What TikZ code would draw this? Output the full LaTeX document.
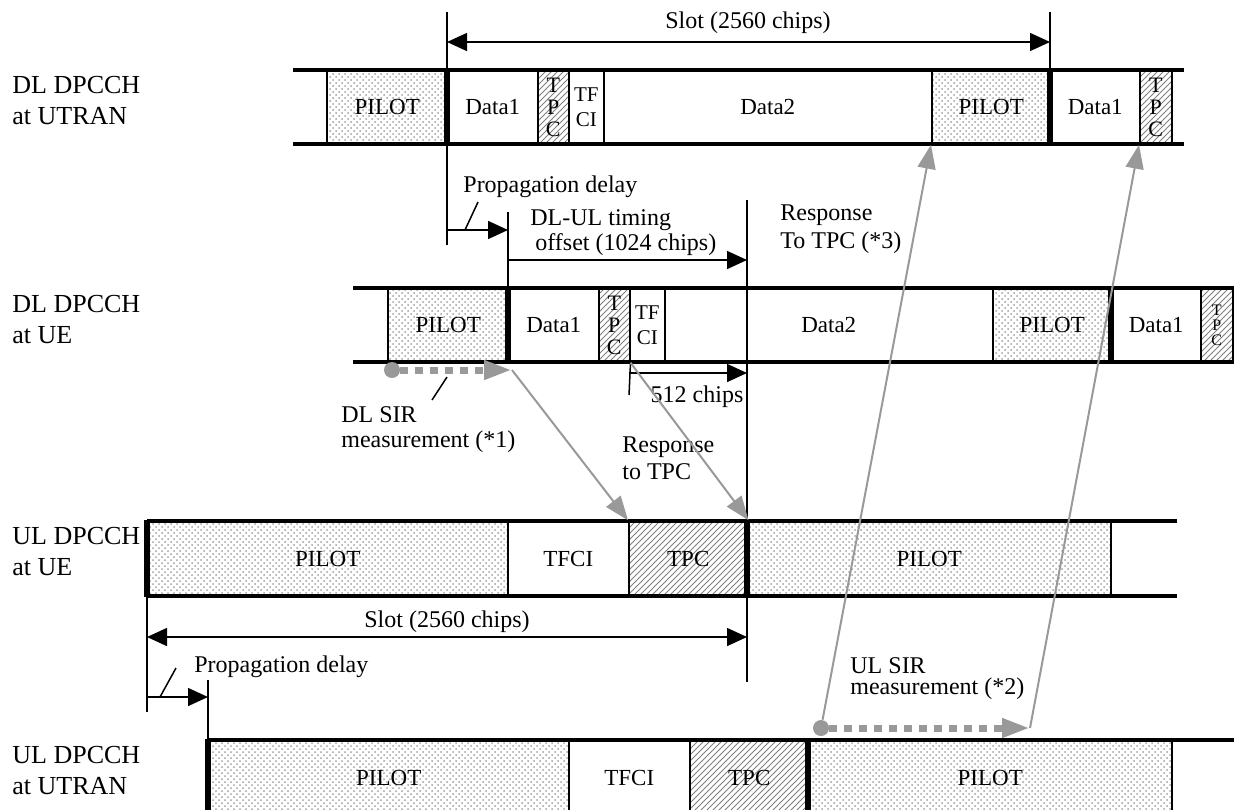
\documentclass[tikz,border=0pt]{standalone}
\usepackage{fontspec}
\setmainfont{Liberation Serif}
\usetikzlibrary{arrows.meta,patterns}
\definecolor{sirgray}{gray}{0.6}
\tikzset{
    blk/.tip={Triangle[length=10pt,width=9pt]},
    field/.style={draw, line width=0.75pt, minimum height=37pt, inner sep=0pt, anchor=west, font=\fontsize{11.5}{12}\selectfont},
    pilot/.style={field, pattern=crosshatch dots, pattern color=gray!75},
    tpcbox/.style={field, pattern=north east lines, pattern color=gray, align=center, font=\fontsize{11}{11}\selectfont},
    tfcibox/.style={field, align=center, font=\fontsize{10.5}{12.5}\selectfont},
    rowline/.style={line width=2.2pt},
    slotline/.style={line width=2.6pt},
    tick/.style={line width=0.75pt},
    dim/.style={line width=0.75pt, -blk},
    annot/.style={inner sep=0pt, align=left, font=\fontsize{12}{12.5}\selectfont},
    rowlabel/.style={inner sep=0pt, anchor=west, align=left, font=\fontsize{13}{15.5}\selectfont},
    sirdot/.style={circle, fill=sirgray, inner sep=0pt, minimum size=8pt},
    sirline/.style={draw=sirgray, line width=1pt, -{Triangle[length=12pt,width=9pt]}},
    sirdash/.style={draw=sirgray, line width=3.5pt, dash pattern=on 4pt off 3.5pt, -{Triangle[length=14pt,width=9pt]}}
}
\begin{document}
\begin{tikzpicture}[x=0.5pt, y=-0.5pt]
    \clip (0,0) rectangle (1234,809);

    \node (lA) at (12,100.5) [rowlabel] {DL DPCCH\\at UTRAN};
    \node (lB) at (12,319.5) [rowlabel] {DL DPCCH\\at UE};
    \node (lC) at (12,551.5) [rowlabel] {UL DPCCH\\at UE};
    \node (lD) at (12,770.5) [rowlabel] {UL DPCCH\\at UTRAN};

    \node (pA1) at (326,107) [pilot, minimum width=60.5pt] {PILOT};
    \node (dA1) at (447,107) [field, minimum width=45pt] {Data1};
    \node (tA1) at (537,107) [tpcbox, minimum width=15.5pt] {T\\P\\C};
    \node (fA1) at (568,107) [tfcibox, minimum width=17.5pt] {TF\\CI};
    \node (eA1) at (603,107) [field, minimum width=164pt] {Data2};
    \node (pA2) at (931,107) [pilot, minimum width=59.5pt] {PILOT};
    \node (dA2) at (1050,107) [field, minimum width=44.5pt] {Data1};
    \node (tA2) at (1139,107) [tpcbox, minimum width=16pt] {T\\P\\C};

    \node (pB1) at (387,325) [pilot, minimum width=60.5pt] {PILOT};
    \node (dB1) at (508,325) [field, minimum width=45pt] {Data1};
    \node (tB1) at (598,325) [tpcbox, minimum width=15.5pt] {T\\P\\C};
    \node (fB1) at (629,325) [tfcibox, minimum width=17.5pt] {TF\\CI};
    \node (eB1) at (664,325) [field, minimum width=164pt] {Data2};
    \node (pB2) at (992,325) [pilot, minimum width=59.5pt] {PILOT};
    \node (dB2) at (1111,325) [field, minimum width=44.5pt] {Data1};
    \node (tB2) at (1200,325) [tpcbox, minimum width=16pt, font=\fontsize{8}{7.5}\selectfont] {T\\P\\C};

    \node (pC1) at (147,558.5) [pilot, minimum width=180pt, minimum height=37.5pt] {PILOT};
    \node (fC1) at (507,558.5) [field, minimum width=60.5pt, minimum height=37.5pt] {TFCI};
    \node (tC1) at (628,558.5) [tpcbox, minimum width=59.5pt, minimum height=37.5pt, font=\fontsize{11.5}{12}\selectfont] {TPC};
    \node (pC2) at (747,558.5) [pilot, minimum width=181.5pt, minimum height=37.5pt] {PILOT};

    \node (pD1) at (208,777.5) [pilot, minimum width=180pt, minimum height=37.5pt] {PILOT};
    \node (fD1) at (568,777.5) [field, minimum width=60.5pt, minimum height=37.5pt] {TFCI};
    \node (tD1) at (689,777.5) [tpcbox, minimum width=59.5pt, minimum height=37.5pt, font=\fontsize{11.5}{12}\selectfont] {TPC};
    \node (pD2) at (808,777.5) [pilot, minimum width=181.5pt, minimum height=37.5pt] {PILOT};

    \draw [rowline] (293,70) -- (1184,70);
    \draw [rowline] (293,144) -- (1184,144);
    \draw [rowline] (353,288) -- (1234,288);
    \draw [rowline] (353,362) -- (1234,362);
    \draw [rowline] (147,521) -- (1177,521);
    \draw [rowline] (147,596) -- (1177,596);
    \draw [rowline] (208,740) -- (1234,740);
    \draw [rowline] (208,815) -- (1234,815);

    \draw [slotline] (dA1.north west) -- (dA1.south west);
    \draw [slotline] (dA2.north west) -- (dA2.south west);
    \draw [slotline] (dB1.north west) -- (dB1.south west);
    \draw [slotline] (dB2.north west) -- (dB2.south west);
    \draw [slotline] (pC1.north west) -- (pC1.south west);
    \draw [slotline] (pC2.north west) -- (pC2.south west);
    \draw [slotline] (pD1.north west) -- (pD1.south west);
    \draw [slotline] (pD2.north west) -- (pD2.south west);

    \coordinate (sA1) at (447,42);
    \coordinate (sA2) at (1050,42);
    \draw [tick] (447,12) -- (447,245);
    \draw [tick] (1050,12) -- (dA2.north west);
    \draw [dim, blk-blk] (sA1) -- (sA2);
    \node (slotA) at (748,23) [annot] {Slot (2560 chips)};

    \coordinate (pdA1) at (447,230);
    \coordinate (pdA2) at (508,230);
    \draw [tick] (508,212) -- (dB1.north west);
    \draw [dim] (pdA1) -- (pdA2);
    \node (propA) at (463,187) [annot, anchor=west] {Propagation delay};
    \draw [tick] (465,230) -- (478,202);

    \coordinate (toA) at (508,260);
    \coordinate (toB) at (747,260);
    \draw [tick] (747,200) -- (747,682);
    \draw [dim] (toA) -- (toB);
    \node (offs) at (530,232.5) [annot, anchor=west] {DL-UL timing\\\hspace{2.5pt}offset (1024 chips)};

    \node (resp3) at (780,229) [annot, anchor=west, font=\fontsize{12}{14}\selectfont] {Response\\To TPC (*3)};

    \coordinate (c512) at (747,373);
    \draw [tick] (tB1.south east) -- (629,395);
    \draw [dim] (629,373) -- (c512);
    \node (chips) at (697,397) [annot] {512 chips};

    \node (sirD) at (392,370) [sirdot] {};
    \coordinate (sirDend) at (512,370);
    \draw [sirdash] (sirD) -- (sirDend);
    \draw [tick] (432,400) -- (447,377);
    \node (sirDtext) at (341,429.5) [annot, anchor=west] {DL SIR\\measurement (*1)};
    \node (resp) at (622,458.5) [annot, anchor=west, font=\fontsize{12}{13.5}\selectfont] {Response\\to TPC};
    \draw [sirline] (sirDend) -- (tC1.north west);
    \draw [sirline] (tB1.south east) -- (tC1.north east);

    \coordinate (sC1) at (147,637);
    \coordinate (sC2) at (747,637);
    \draw [tick] (pC1.south west) -- (147,712);
    \draw [dim, blk-blk] (sC1) -- (sC2);
    \node (slotC) at (447,622) [annot] {Slot (2560 chips)};

    \coordinate (pdC1) at (147,697);
    \coordinate (pdC2) at (208,697);
    \draw [tick] (208,680) -- (pD1.north west);
    \draw [dim] (pdC1) -- (pdC2);
    \node (propC) at (194,667) [annot, anchor=west] {Propagation delay};
    \draw [tick] (160,697) -- (176,668);

    \node (sirU) at (821,728) [sirdot] {};
    \coordinate (sirUend) at (1030,728);
    \draw [sirdash] (sirU) -- (sirUend);
    \node (sirUtext) at (850,678.5) [annot, anchor=west, font=\fontsize{12}{10.5}\selectfont] {UL SIR\\measurement (*2)};
    \draw [sirline] (sirU) -- (pA2.south west);
    \draw [sirline] (sirUend) -- (tA2.south west);
\end{tikzpicture}
\end{document}
